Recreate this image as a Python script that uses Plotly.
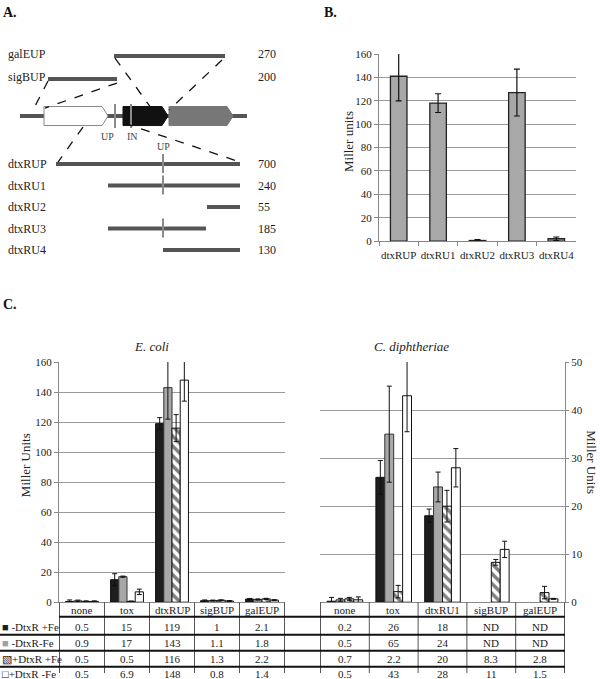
import plotly.graph_objects as go

W, H = 600, 679
FONT = "Liberation Serif, Times New Roman, Times, serif"


def px(x):
    return x / W


def py(y):
    # paper coordinate for a target pixel row (small calibration of the capture)
    return 1 - ((y - 6) / 0.982) / H


# ---------------- Panel A data (diagram units) ----------------
upstream_names = ["galEUP", "sigBUP"]
upstream_sizes = [270, 200]
upstream_start = [114, 48]
upstream_end = [225, 117]

frag_names = ["dtxRUP", "dtxRU1", "dtxRU2", "dtxRU3", "dtxRU4"]
frag_sizes = [700, 240, 55, 185, 130]
frag_start = [56, 108, 207, 108, 163]
frag_end = [240, 240, 240, 206, 240]
frag_has_up = [True, True, False, True, False]
up_site = 163

map_start, map_end = 20, 247
arrow_start = [44, 123, 169]
arrow_end = [108, 168, 233]
site_pos = [115, 131]
site_names = ["UP", "IN"]

# ---------------- Panel B data ----------------
b_cats = ["dtxRUP", "dtxRU1", "dtxRU2", "dtxRU3", "dtxRU4"]
b_vals = [141, 118, 0.5, 127, 2]
b_err = [21, 8, 0.8, 20, 1.5]

# ---------------- Panel C data ----------------
series_names = ["-DtxR +Fe", "-DtxR-Fe", "+DtxR +Fe", "+DtxR -Fe"]

ecoli_cats = ["none", "tox", "dtxRUP", "sigBUP", "galEUP"]
ecoli_mfe = [0.5, 15, 119, 1, 2.1]
ecoli_mnofe = [0.9, 17, 143, 1.1, 1.8]
ecoli_pfe = [0.5, 0.5, 116, 1.3, 2.2]
ecoli_pnofe = [0.5, 6.9, 148, 0.8, 1.4]
ecoli_mfe_err = [1.0, 4, 4, 0.5, 0.4]
ecoli_mnofe_err = [0.5, 0.4, 21, 0.3, 0.4]
ecoli_pfe_err = [0.4, 0.3, 9, 0.3, 0.4]
ecoli_pnofe_err = [0.4, 1.8, 14, 0.3, 0.3]

cdip_cats = ["none", "tox", "dtxRU1", "sigBUP", "galEUP"]
cdip_mfe = [0.2, 26, 18, None, None]
cdip_mnofe = [0.5, 35, 24, None, None]
cdip_pfe = [0.7, 2.2, 20, 8.3, 2.0]
cdip_pnofe = [0.5, 43, 28, 11, 0.7]
cdip_mfe_err = [0.8, 3.5, 1.4, 0, 0]
cdip_mnofe_err = [0.3, 10, 3.1, 0, 0]
cdip_pfe_err = [0.3, 1.3, 3.3, 0.6, 1.3]
cdip_pnofe_err = [0.6, 7.5, 4, 1.7, 0.1]

ecoli_tab_mfe = ["0.5", "15", "119", "1", "2.1"]
ecoli_tab_mnofe = ["0.9", "17", "143", "1.1", "1.8"]
ecoli_tab_pfe = ["0.5", "0.5", "116", "1.3", "2.2"]
ecoli_tab_pnofe = ["0.5", "6.9", "148", "0.8", "1.4"]
cdip_tab_mfe = ["0.2", "26", "18", "ND", "ND"]
cdip_tab_mnofe = ["0.5", "65", "24", "ND", "ND"]
cdip_tab_pfe = ["0.7", "2.2", "20", "8.3", "2.8"]
cdip_tab_pnofe = ["0.5", "43", "28", "11", "1.5"]

# ---------------- styles ----------------
bar_styles = [
    dict(color="#1e1e1e", line=dict(color="#111111", width=1)),
    dict(color="#a8a8a8", line=dict(color="#333333", width=1)),
    dict(color="white", line=dict(color="#111111", width=1),
         pattern=dict(shape="\\", fgcolor="#000000", bgcolor="white", size=7, solidity=0.5)),
    dict(color="white", line=dict(color="#111111", width=1)),
]
legend_glyphs = [
    '<span style="color:#1e1e1e">■</span> ',
    '<span style="color:#a0a0a0">■</span> ',
    '<span style="color:#111111">▧</span>',
    '<span style="color:#111111">□</span>',
]

fig = go.Figure()
shapes = []
ann = []


def note(**kw):
    kw.setdefault("showarrow", False)
    kw.setdefault("xanchor", "center")
    kw.setdefault("yanchor", "middle")
    ann.append(kw)


# ================= Panel C =================
ecoli_series = [ecoli_mfe, ecoli_mnofe, ecoli_pfe, ecoli_pnofe]
ecoli_errs = [ecoli_mfe_err, ecoli_mnofe_err, ecoli_pfe_err, ecoli_pnofe_err]
cdip_series = [cdip_mfe, cdip_mnofe, cdip_pfe, cdip_pnofe]
cdip_errs = [cdip_mfe_err, cdip_mnofe_err, cdip_pfe_err, cdip_pnofe_err]

for i in range(4):
    fig.add_trace(go.Bar(x=ecoli_cats, y=ecoli_series[i], name=series_names[i],
                         marker=bar_styles[i], xaxis="x", yaxis="y",
                         error_y=dict(type="data", array=ecoli_errs[i], color="#111",
                                      thickness=1, width=2.5)))
for i in range(4):
    fig.add_trace(go.Bar(x=cdip_cats, y=cdip_series[i], name=series_names[i],
                         marker=bar_styles[i], xaxis="x2", yaxis="y2",
                         error_y=dict(type="data", array=cdip_errs[i], color="#111",
                                      thickness=1, width=2.5)))

# ================= Panel B =================
fig.add_trace(go.Bar(x=b_cats, y=b_vals, width=0.42, xaxis="x4", yaxis="y4",
                     marker=dict(color="#a8a8a8", line=dict(color="#222", width=1.3)),
                     error_y=dict(type="data", array=b_err, color="#111",
                                  thickness=1.2, width=3)))

# ================= Panel A (diagram) =================
up_y = [56, 79]
main_y = 116
frag_y0, frag_dy = 164, 21.5
frag_y = [frag_y0 + frag_dy * i for i in range(len(frag_names))]

xs, ys = [], []
for s, e, y in zip(upstream_start, upstream_end, up_y):
    xs += [s, e, None]
    ys += [y, y, None]
for s, e, y in zip(frag_start, frag_end, frag_y):
    xs += [s, e, None]
    ys += [y, y, None]
xs += [map_start, map_end, None]
ys += [main_y, main_y, None]
fig.add_trace(go.Scatter(x=xs, y=ys, mode="lines", xaxis="x3", yaxis="y3",
                         line=dict(color="#555555", width=4), hoverinfo="skip"))

# gene arrows
arrow_fill = ["white", "#111111", "#777777"]
arrow_line = ["#888888", "#111111", "#777777"]
half = 9.5
for s, e, f, lc in zip(arrow_start, arrow_end, arrow_fill, arrow_line):
    head = e - 6
    path = (f"M {s} {main_y - half} L {head} {main_y - half} L {e} {main_y} "
            f"L {head} {main_y + half} L {s} {main_y + half} Z")
    shapes.append(dict(type="path", path=path, xref="x3", yref="y3",
                       fillcolor=f, line=dict(color=lc, width=1)))
# sites on map
for p in site_pos:
    shapes.append(dict(type="line", xref="x3", yref="y3", x0=p, x1=p,
                       y0=main_y - 12, y1=main_y + 12,
                       line=dict(color="#8a8a8a", width=2)))
for p, n in zip(site_pos, site_names):
    note(x=p - (8 if n == "UP" else -1), y=main_y + 20, xref="x3", yref="y3",
         text=n, font=dict(size=10, color="#444", family=FONT))
note(x=up_site, y=146, xref="x3", yref="y3", text="UP",
     font=dict(size=10, color="#444", family=FONT))
# UP site on fragments
for has, y in zip(frag_has_up, frag_y):
    if has:
        shapes.append(dict(type="line", xref="x3", yref="y3", x0=up_site, x1=up_site,
                           y0=y - 10, y1=y + 9, line=dict(color="#8a8a8a", width=2)))

# dashed connectors
dash = dict(color="#111111", width=1.3, dash="dash")
conns = [
    (upstream_start[1], up_y[1] + 2, map_start + 13, main_y - 6),
    (upstream_end[1], up_y[1] + 4, arrow_start[0] + 1, main_y - 8),
    (upstream_start[0] + 1, up_y[0] + 2, arrow_end[1] - 14, main_y - 4),
    (upstream_end[0] - 3, up_y[0] + 4, arrow_start[2], main_y - 6),
    (83, main_y + 11, frag_start[0] + 2, frag_y[0] - 2),
    (arrow_start[1] + 1, main_y + 7, frag_end[0], frag_y[0] - 2),
]
for x0, y0, x1, y1 in conns:
    shapes.append(dict(type="line", xref="x3", yref="y3", x0=x0, y0=y0, x1=x1, y1=y1,
                       line=dash))

lab_font = dict(size=12, color="#222", family=FONT)
for n, sz, y in zip(upstream_names, upstream_sizes, up_y):
    note(x=6, y=y - 2, xref="x3", yref="y3", text=n, xanchor="left", font=lab_font)
    note(x=256, y=y - 2, xref="x3", yref="y3", text=str(sz), xanchor="left", font=lab_font)
for n, sz, y in zip(frag_names, frag_sizes, frag_y):
    note(x=6, y=y, xref="x3", yref="y3", text=n, xanchor="left", font=lab_font)
    note(x=256, y=y, xref="x3", yref="y3", text=str(sz), xanchor="left", font=lab_font)

# ================= panel labels / titles =================
for t, x, y in [("A.", 1, 12), ("B.", 322, 12), ("C.", 1, 304)]:
    note(x=px(x), y=py(y), xref="paper", yref="paper", text=f"<b>{t}</b>",
         xanchor="left", font=dict(size=14, color="#111", family=FONT))
note(x=px(151), y=py(346), xref="paper", yref="paper", text="<i>E. coli</i>",
     font=dict(size=13, color="#222", family=FONT))
note(x=px(411), y=py(346), xref="paper", yref="paper", text="<i>C. diphtheriae</i>",
     font=dict(size=13, color="#222", family=FONT))
note(x=px(25), y=py(465), xref="paper", yref="paper", text="Miller Units",
     textangle=-90, font=dict(size=13, color="#222", family=FONT))
note(x=px(592), y=py(462), xref="paper", yref="paper", text="Miller Units",
     textangle=90, font=dict(size=13, color="#222", family=FONT))
note(x=px(348), y=py(142), xref="paper", yref="paper", text="Miller units",
     textangle=-90, font=dict(size=13, color="#222", family=FONT))

# ================= table =================
header_y = 610
row_y = [627, 643, 659, 674]
tab_font = dict(size=11, color="#222", family=FONT)
for xr, cats in [("x", ecoli_cats), ("x2", cdip_cats)]:
    for c in cats:
        note(x=c, y=py(header_y), xref=xr, yref="paper", text=c, font=tab_font)
ecoli_tab = [ecoli_tab_mfe, ecoli_tab_mnofe, ecoli_tab_pfe, ecoli_tab_pnofe]
cdip_tab = [cdip_tab_mfe, cdip_tab_mnofe, cdip_tab_pfe, cdip_tab_pnofe]
for r in range(4):
    note(x=px(0), y=py(row_y[r]), xref="paper", yref="paper",
         text=legend_glyphs[r] + series_names[r], xanchor="left", font=tab_font)
    for c, v in zip(ecoli_cats, ecoli_tab[r]):
        note(x=c, y=py(row_y[r]), xref="x", yref="paper", text=v, font=tab_font)
    for c, v in zip(cdip_cats, cdip_tab[r]):
        note(x=c, y=py(row_y[r]), xref="x2", yref="paper", text=v, font=tab_font)

# vertical cell lines at category boundaries
for xr, n in [("x", len(ecoli_cats)), ("x2", len(cdip_cats))]:
    for k in range(n + 1):
        shapes.append(dict(type="line", xref=xr, yref="paper", x0=k - 0.5, x1=k - 0.5,
                           y0=py(602), y1=0, line=dict(color="#555", width=1)))
# horizontal row separators
shapes.append(dict(type="line", xref="paper", yref="paper", x0=px(59), x1=px(565),
                   y0=py(616.5), y1=py(616.5), line=dict(color="#111", width=2)))
for yy in [634.5, 650.5, 666.5]:
    shapes.append(dict(type="line", xref="paper", yref="paper", x0=0, x1=px(565),
                       y0=py(yy), y1=py(yy), line=dict(color="#111", width=2)))

# ================= layout =================
tickf = dict(size=11, color="#222", family=FONT)
c_ydom = [py(602), py(362)]
fig.update_layout(
    width=W, height=H, margin=dict(l=0, r=0, t=0, b=0, pad=0),
    paper_bgcolor="white", plot_bgcolor="white", showlegend=False,
    barmode="group", bargap=0.27, bargroupgap=0,
    font=dict(family=FONT, color="#222"),
    xaxis=dict(domain=[px(59), px(285)], anchor="y", showticklabels=False, ticks="",
               showline=True, linecolor="#888", showgrid=False),
    yaxis=dict(domain=c_ydom, anchor="x", range=[0, 160], dtick=20, showline=True,
               linecolor="#888", ticks="outside", ticklen=4, tickcolor="#888",
               gridcolor="#9a9a9a", gridwidth=1, tickfont=tickf, zeroline=False),
    xaxis2=dict(domain=[px(320), px(565)], anchor="y2", showticklabels=False, ticks="",
                showline=True, linecolor="#888", showgrid=False),
    yaxis2=dict(domain=c_ydom, anchor="x2", side="right", range=[0, 50], dtick=10,
                showline=True, linecolor="#888", ticks="outside", ticklen=3,
                tickcolor="#888", gridcolor="#9a9a9a", gridwidth=1, tickfont=tickf,
                zeroline=False),
    xaxis3=dict(domain=[0, px(290)], anchor="y3", range=[0, 290], visible=False),
    yaxis3=dict(domain=[py(290), 1], anchor="x3", range=[290, 6], visible=False),
    xaxis4=dict(domain=[px(379), px(576)], anchor="y4", showline=True, linecolor="#888",
                ticks="outside", tickson="boundaries", ticklen=4, tickcolor="#888",
                tickangle=0, tickfont=dict(size=11, color="#222", family=FONT),
                showgrid=False, ticklabelstandoff=4),
    yaxis4=dict(domain=[py(241), py(54)], anchor="x4", range=[0, 160], dtick=20,
                showline=True, linecolor="#888", ticks="outside", ticklen=4,
                tickcolor="#888", gridcolor="#9a9a9a", gridwidth=1, tickfont=tickf,
                zeroline=False),
    shapes=shapes, annotations=ann,
)

fig.write_html("out.html", config={"displayModeBar": False},
               post_script="document.body.style.margin='0';document.body.style.overflow='hidden';")
